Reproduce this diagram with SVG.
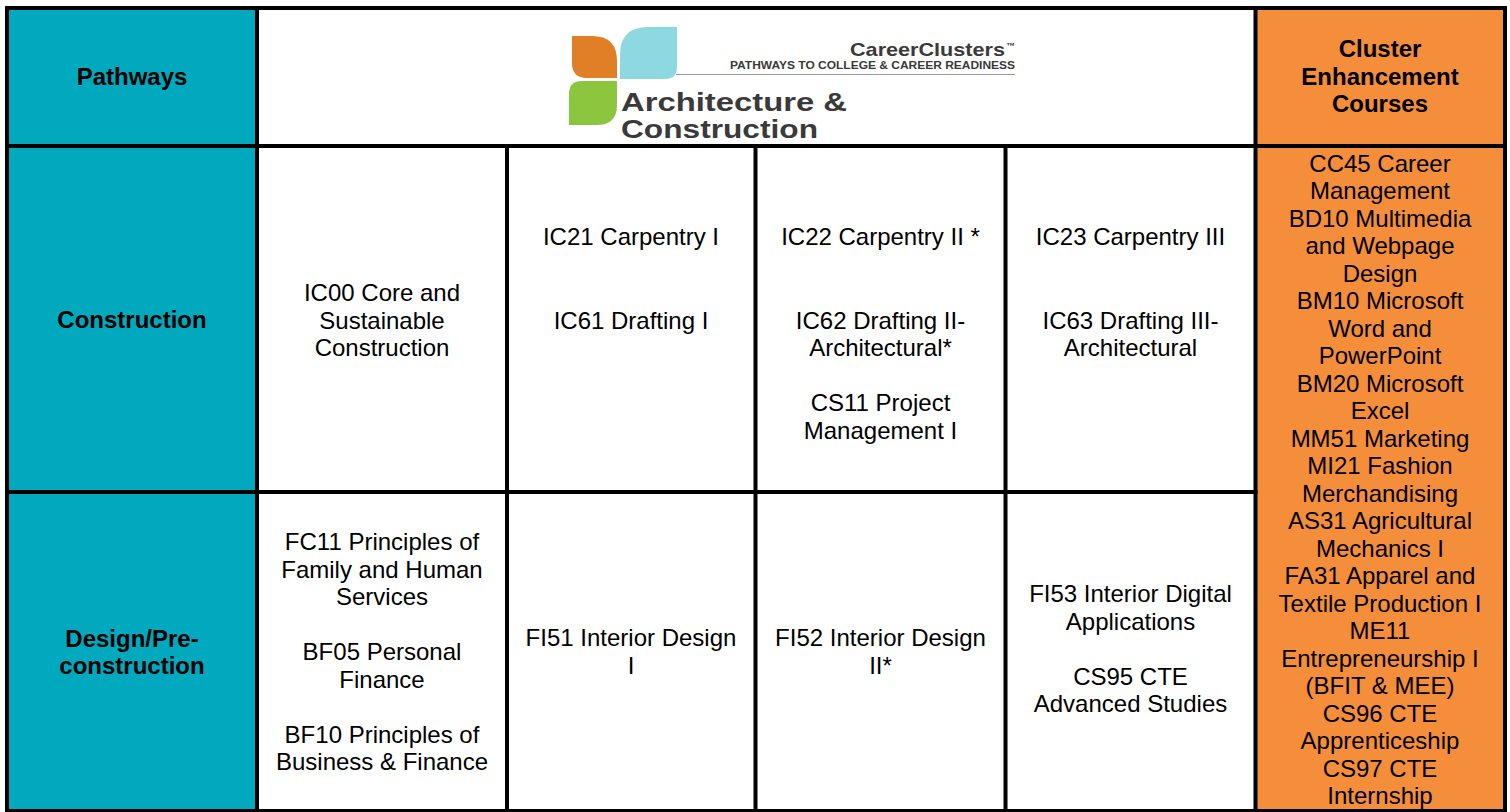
<svg xmlns="http://www.w3.org/2000/svg" width="1510" height="812" viewBox="0 0 1510 812">
<style>
text{font-family:"Liberation Sans",Arial,sans-serif;font-size:24px;fill:#000;text-anchor:middle}
.b{font-weight:bold}
.grid line{stroke:#000;stroke-width:4;stroke-linecap:square}
.logo text{font-family:"Liberation Sans",Arial,sans-serif;font-weight:bold;fill:#3a3a3a;text-anchor:start}
.logo .cc{font-size:19px}
.logo .tm{font-size:9px}
.logo .pw{font-size:10px}
.logo .ac{font-size:26px}
</style>
<rect x="0" y="0" width="1510" height="812" fill="#fff"/>
<g id="pathways-col">
<rect x="7" y="8" width="250" height="803" fill="#00A9BD"/>
<text class="b" x="132" y="85">Pathways</text>
</g>
<g id="enhancement-col">
<rect x="1255.5" y="8" width="249.5" height="803" fill="#F48E3B"/>
<text class="b" x="1380" y="57">Cluster</text>
<text class="b" x="1380" y="84.5">Enhancement</text>
<text class="b" x="1380" y="112">Courses</text>
</g>
<g id="logo" class="logo">
<path d="M572,36 L592,36 Q617,36 617,61 L617,78 L587,78 Q572,78 572,63 Z" fill="#E07F25"/>
<path d="M648,27 L677,27 L677,67 Q677,79 665,79 L620,79 L620,55 Q620,27 648,27 Z" fill="#8DD8E1"/>
<path d="M582,81 L617,81 L617,105 Q617,125 597,125 L569,125 L569,94 Q569,81 582,81 Z" fill="#8CC63F"/>
<text class="cc" x="850" y="56" textLength="155" lengthAdjust="spacingAndGlyphs">CareerClusters</text>
<text class="tm" x="1006" y="49">™</text>
<text class="pw" x="730" y="68.5" textLength="285" lengthAdjust="spacingAndGlyphs">PATHWAYS TO COLLEGE &amp; CAREER READINESS</text>
<line x1="676" y1="74.5" x2="1015" y2="74.5" stroke="#9a9a9a" stroke-width="1"/>
<text class="ac" x="621" y="111" textLength="226" lengthAdjust="spacingAndGlyphs">Architecture &amp;</text>
<text class="ac" x="621" y="138" textLength="197" lengthAdjust="spacingAndGlyphs">Construction</text>
</g>
<g id="row-construction">
<text class="b" x="132" y="328">Construction</text>
</g>
<g id="row-design">
<text class="b" x="132" y="646.5">Design/Pre-</text>
<text class="b" x="132" y="674">construction</text>
</g>
<g id="c-construction-1">
<text x="382" y="301">IC00 Core and</text>
<text x="382" y="328.5">Sustainable</text>
<text x="382" y="356">Construction</text>
</g>
<g id="c-construction-2">
<text x="631" y="245">IC21 Carpentry I</text>
<text x="631" y="328.5">IC61 Drafting I</text>
</g>
<g id="c-construction-3">
<text x="880.5" y="245">IC22 Carpentry II *</text>
<text x="880.5" y="328.5">IC62 Drafting II-</text>
<text x="880.5" y="356">Architectural*</text>
<text x="880.5" y="411">CS11 Project</text>
<text x="880.5" y="438.5">Management I</text>
</g>
<g id="c-construction-4">
<text x="1130.5" y="245">IC23 Carpentry III</text>
<text x="1130.5" y="328.5">IC63 Drafting III-</text>
<text x="1130.5" y="356">Architectural</text>
</g>
<g id="c-design-1">
<text x="382" y="550">FC11 Principles of</text>
<text x="382" y="577.5">Family and Human</text>
<text x="382" y="605">Services</text>
<text x="382" y="660">BF05 Personal</text>
<text x="382" y="687.5">Finance</text>
<text x="382" y="742.5">BF10 Principles of</text>
<text x="382" y="770">Business &amp; Finance</text>
</g>
<g id="c-design-2">
<text x="631" y="646">FI51 Interior Design</text>
<text x="631" y="673.5">I</text>
</g>
<g id="c-design-3">
<text x="880.5" y="646">FI52 Interior Design</text>
<text x="880.5" y="673.5">II*</text>
</g>
<g id="c-design-4">
<text x="1130.5" y="602">FI53 Interior Digital</text>
<text x="1130.5" y="629.5">Applications</text>
<text x="1130.5" y="684.5">CS95 CTE</text>
<text x="1130.5" y="712">Advanced Studies</text>
</g>
<g id="c-enhancement">
<text x="1380" y="171.7">CC45 Career</text>
<text x="1380" y="199.2">Management</text>
<text x="1380" y="226.7">BD10 Multimedia</text>
<text x="1380" y="254.2">and Webpage</text>
<text x="1380" y="281.7">Design</text>
<text x="1380" y="309.2">BM10 Microsoft</text>
<text x="1380" y="336.7">Word and</text>
<text x="1380" y="364.2">PowerPoint</text>
<text x="1380" y="391.7">BM20 Microsoft</text>
<text x="1380" y="419.2">Excel</text>
<text x="1380" y="446.7">MM51 Marketing</text>
<text x="1380" y="474.2">MI21 Fashion</text>
<text x="1380" y="501.7">Merchandising</text>
<text x="1380" y="529.2">AS31 Agricultural</text>
<text x="1380" y="556.7">Mechanics I</text>
<text x="1380" y="584.2">FA31 Apparel and</text>
<text x="1380" y="611.7">Textile Production I</text>
<text x="1380" y="639.2">ME11</text>
<text x="1380" y="666.7">Entrepreneurship I</text>
<text x="1380" y="694.2">(BFIT &amp; MEE)</text>
<text x="1380" y="721.7">CS96 CTE</text>
<text x="1380" y="749.2">Apprenticeship</text>
<text x="1380" y="776.7">CS97 CTE</text>
<text x="1380" y="804.2">Internship</text>
</g>
<g id="connectors" class="grid">
<line x1="7" y1="8" x2="1505" y2="8"/>
<line x1="7" y1="146" x2="1505" y2="146"/>
<line x1="7" y1="492" x2="1255.5" y2="492"/>
<line x1="7" y1="811" x2="1505" y2="811"/>
<line x1="7" y1="8" x2="7" y2="811"/>
<line x1="257" y1="8" x2="257" y2="811"/>
<line x1="507" y1="146" x2="507" y2="811"/>
<line x1="755.5" y1="146" x2="755.5" y2="811"/>
<line x1="1005.5" y1="146" x2="1005.5" y2="811"/>
<line x1="1255.5" y1="8" x2="1255.5" y2="811"/>
<line x1="1505" y1="8" x2="1505" y2="811"/>
</g>
</svg>
